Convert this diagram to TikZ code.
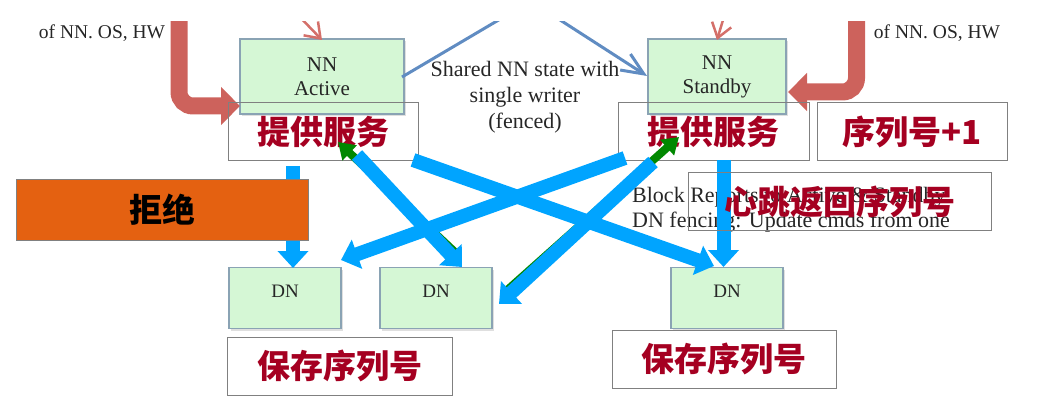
\documentclass[tikz,border=0pt]{standalone}
\usepackage{fontspec}
\setmainfont{Liberation Serif}
\newfontfamily\cjk{Noto Sans CJK SC}
\usetikzlibrary{arrows.meta,shadows}
\definecolor{nnfill}{RGB}{213,247,213}
\definecolor{nnborder}{RGB}{138,163,180}
\definecolor{redarrow}{RGB}{205,98,92}
\definecolor{redthin}{RGB}{212,112,106}
\definecolor{steel}{RGB}{96,140,194}
\definecolor{bluearr}{RGB}{0,164,255}
\definecolor{greenarr}{RGB}{0,136,0}
\definecolor{labelred}{RGB}{165,0,33}
\definecolor{orangefill}{RGB}{228,97,17}
\definecolor{lblborder}{RGB}{128,128,128}
\tikzset{
  nnbox/.style={draw=nnborder, line width=1.2pt, fill=nnfill, inner sep=0pt,
    drop shadow={shadow xshift=1.5pt,shadow yshift=-2pt,opacity=0.25}},
  nntext/.style={align=center, font=\fontsize{21}{24}\selectfont, text=black!85},
  lbl/.style={draw=lblborder, line width=1pt, inner sep=0pt, text=labelred,
    font=\cjk\bfseries\fontsize{33}{36}\selectfont},
  sertext/.style={inner sep=0pt, text=black!85},
  fatred/.style={draw=redarrow, line width=17pt, rounded corners=14pt,
    -{Triangle[width=37pt,length=19pt]}},
  thinred/.style={draw=redthin, line width=2.5pt, -{Straight Barb[width=20pt,length=14pt]}},
  steelline/.style={draw=steel, line width=3pt},
  bluearrow/.style={draw=bluearr, line width=14pt, -{Triangle[width=30pt,length=17pt]}},
  greenarrow/.style={draw=greenarr, line width=8pt, -{Triangle[width=20pt,length=16pt]}},
}
\begin{document}
\begin{tikzpicture}[x=1pt,y=-1pt]
\useasboundingbox (0,0) rectangle (1060,406);

% main nodes
\node[nnbox, minimum width=164pt, minimum height=75pt] (nna) at (322,76.5) {};
\node[nntext] (nnat) at (nna.center) {NN\\Active};
\node[nnbox, minimum width=138pt, minimum height=75pt] (nns) at (717,76.5) {};
\node[nntext] (nnst) at (nns.center) {NN\\Standby};

% top arrows (clipped at the top band)
\begin{scope}
\clip (0,22) rectangle (1060,406);
\coordinate (rl0) at (179,10);
\coordinate (rl1) at (240,106);
\coordinate (rr0) at (856.5,10);
\coordinate (rr1) at (788,92);
\draw[fatred] (rl0) |- (rl1);
\draw[fatred] (rr0) |- (rr1);
\coordinate (tl0) at (295,12);
\coordinate (tl1) at (322,40);
\coordinate (tr0) at (726,10);
\coordinate (tr1) at (717,40);
\draw[thinred] (tl0) -- (tl1);
\draw[thinred] (tr0) -- (tr1);
\coordinate (sl0) at (402,77);
\coordinate (sl1) at (502,18);
\coordinate (sr0) at (557,18);
\coordinate (sr1) at (647,76);
\draw[steelline] (sl0) -- (sl1);
\draw[steelline, -{Straight Barb[width=19pt,length=22pt]}] (sr0) -- (sr1);
\end{scope}

% serif texts
\node[sertext, font=\fontsize{19.5}{22}\selectfont] (osl) at (102,33) {of NN. OS, HW};
\node[sertext, font=\fontsize{19.5}{22}\selectfont] (osr) at (937,33) {of NN. OS, HW};
\node[sertext, align=center, font=\fontsize{22}{26}\selectfont] (shared) at (525,97)
  {Shared NN state with\\single writer\\(fenced)};
\node[sertext, anchor=base west, font=\fontsize{22}{26}\selectfont] (blk1) at (632,203)
  {Block Reports to Active \& Standby};
\node[sertext, anchor=base west, font=\fontsize{22}{26}\selectfont] (blk2) at (632,228)
  {DN fencing: Update cmds from one};

% top label boxes
\node[lbl, minimum width=190pt, minimum height=58pt] (svl) at (323,132) {提供服务};
\node[lbl, minimum width=191pt, minimum height=58pt] (svr) at (713.5,132) {提供服务};
\node[lbl, minimum width=190pt, minimum height=58pt] (seq) at (912,132) {序列号+1};

% DN boxes
\node[nnbox, minimum width=112pt, minimum height=61pt] (dn1) at (285,298) {};
\node[nnbox, minimum width=112pt, minimum height=61pt] (dn2) at (436,298) {};
\node[nnbox, minimum width=112pt, minimum height=61pt] (dn3) at (727,298) {};
\node[sertext, font=\fontsize{19}{22}\selectfont] (dn1t) at (285,291) {DN};
\node[sertext, font=\fontsize{19}{22}\selectfont] (dn2t) at (436,291) {DN};
\node[sertext, font=\fontsize{19}{22}\selectfont] (dn3t) at (727,291) {DN};

% green arrows (mostly hidden under the blue ones)
\coordinate (g1a) at (458,255);
\coordinate (g1b) at (338,142);
\coordinate (g2a) at (505,292);
\coordinate (g2b) at (679,137);
\draw[greenarrow] (g1a) -- (g1b);
\draw[greenarrow] (g2a) -- (g2b);

% blue arrows
\coordinate (b0a) at (293,166);
\coordinate (b0b) at (293,268);
\coordinate (b1a) at (357,155);
\coordinate (b1b) at (462,267);
\coordinate (b2a) at (413,160);
\coordinate (b2b) at (714,266);
\coordinate (b3a) at (625,158);
\coordinate (b3b) at (341,260);
\coordinate (b4a) at (653,162);
\coordinate (b4b) at (499,304);
\coordinate (b5a) at (723.5,160);
\coordinate (b5b) at (723.5,267);
\draw[bluearrow] (b0a) -- (b0b);
\draw[bluearrow] (b1a) -- (b1b);
\draw[bluearrow] (b2a) -- (b2b);
\draw[bluearrow] (b3a) -- (b3b);
\draw[bluearrow] (b4a) -- (b4b);
\draw[bluearrow] (b5a) -- (b5b);

% heartbeat label
\node[lbl, minimum width=303pt, minimum height=58pt] (hb) at (839.5,202) {心跳返回序列号};

% reject box
\node[lbl, fill=orangefill, text=black, minimum width=292pt, minimum height=60pt] (rej) at (162,210) {拒绝};

% bottom labels
\node[lbl, minimum width=225pt, minimum height=58pt] (savl) at (339.5,366) {保存序列号};
\node[lbl, minimum width=224pt, minimum height=58pt] (savr) at (724,359) {保存序列号};
\end{tikzpicture}
\end{document}
